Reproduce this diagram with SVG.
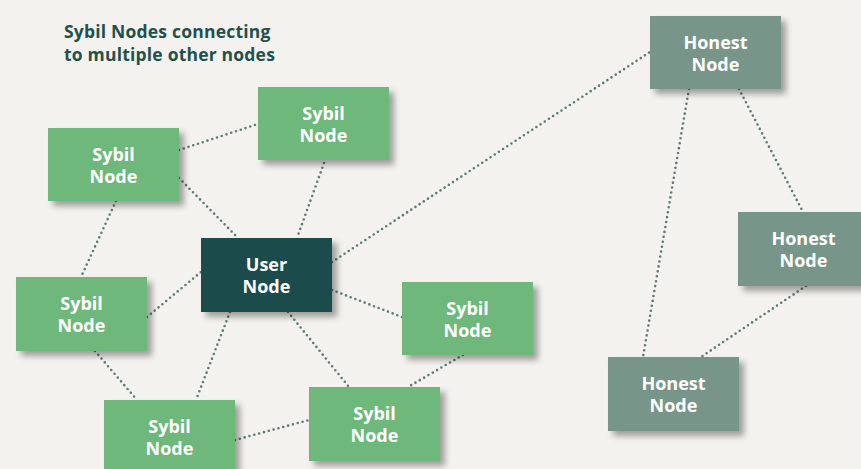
<svg xmlns="http://www.w3.org/2000/svg" width="861" height="469" viewBox="0 0 861 469">
<style>
.bg{fill:#f3f2ee}
.title{font-family:"Open Sans","Liberation Sans",sans-serif;font-weight:700;font-size:17.5px;letter-spacing:0.2px;fill:#24504b}
.lbl{font-family:"Open Sans","Liberation Sans",sans-serif;font-weight:700;font-size:18px;fill:#ffffff;text-anchor:middle}
.sybil{fill:#6db87a}
.user{fill:#1f4b4b}
.honest{fill:#78958a}
.box{filter:url(#sh)}
#connectors line{stroke:#5d7c74;stroke-width:2.6;stroke-linecap:round;stroke-dasharray:0 5}
</style>
<defs>
<filter id="sh" x="-20%" y="-20%" width="150%" height="160%">
<feDropShadow dx="5" dy="5" stdDeviation="3" flood-color="#000" flood-opacity="0.35"/>
</filter>
</defs>
<rect class="bg" width="861" height="469"/>
<text class="title" x="64" y="38">Sybil Nodes connecting</text>
<text class="title" x="64" y="61">to multiple other nodes</text>
<g id="connectors">
<line x1="179" y1="150" x2="258" y2="124"/>
<line x1="179" y1="178" x2="238" y2="238"/>
<line x1="324" y1="163" x2="297" y2="238"/>
<line x1="116" y1="201" x2="81" y2="277"/>
<line x1="147" y1="317" x2="201" y2="272"/>
<line x1="95" y1="351" x2="137" y2="400"/>
<line x1="230" y1="312" x2="196" y2="400"/>
<line x1="288" y1="312" x2="349" y2="387"/>
<line x1="332" y1="290" x2="402" y2="317"/>
<line x1="235" y1="440" x2="309" y2="420"/>
<line x1="463" y1="355" x2="408" y2="387"/>
<line x1="332" y1="262" x2="650" y2="52"/>
<line x1="689" y1="89" x2="643" y2="357"/>
<line x1="739" y1="89" x2="803" y2="212"/>
<line x1="806" y1="286" x2="701" y2="357"/>
</g>
<g id="sybil1"><rect class="box sybil" x="48" y="128" width="131" height="73"/><text class="lbl" x="113.5" y="161">Sybil</text><text class="lbl" x="113.5" y="183">Node</text></g>
<g id="sybil2"><rect class="box sybil" x="258" y="87" width="131" height="73"/><text class="lbl" x="323.5" y="120">Sybil</text><text class="lbl" x="323.5" y="142">Node</text></g>
<g id="sybil3"><rect class="box sybil" x="16" y="277" width="131" height="74"/><text class="lbl" x="81.5" y="310">Sybil</text><text class="lbl" x="81.5" y="332">Node</text></g>
<g id="sybil4"><rect class="box sybil" x="402" y="282" width="131" height="73"/><text class="lbl" x="467.5" y="315">Sybil</text><text class="lbl" x="467.5" y="337">Node</text></g>
<g id="sybil5"><rect class="box sybil" x="104" y="400" width="131" height="74"/><text class="lbl" x="169.5" y="433">Sybil</text><text class="lbl" x="169.5" y="455">Node</text></g>
<g id="sybil6"><rect class="box sybil" x="309" y="387" width="131" height="74"/><text class="lbl" x="374.5" y="420">Sybil</text><text class="lbl" x="374.5" y="442">Node</text></g>
<g id="user"><rect class="box user" x="201" y="238" width="131" height="74"/><text class="lbl" x="266.5" y="271">User</text><text class="lbl" x="266.5" y="293">Node</text></g>
<g id="honest1"><rect class="box honest" x="650" y="16" width="131" height="73"/><text class="lbl" x="715.5" y="49">Honest</text><text class="lbl" x="715.5" y="71">Node</text></g>
<g id="honest2"><rect class="box honest" x="738" y="212" width="131" height="74"/><text class="lbl" x="803.5" y="245">Honest</text><text class="lbl" x="803.5" y="267">Node</text></g>
<g id="honest3"><rect class="box honest" x="608" y="357" width="131" height="74"/><text class="lbl" x="673.5" y="390">Honest</text><text class="lbl" x="673.5" y="412">Node</text></g>
</svg>
